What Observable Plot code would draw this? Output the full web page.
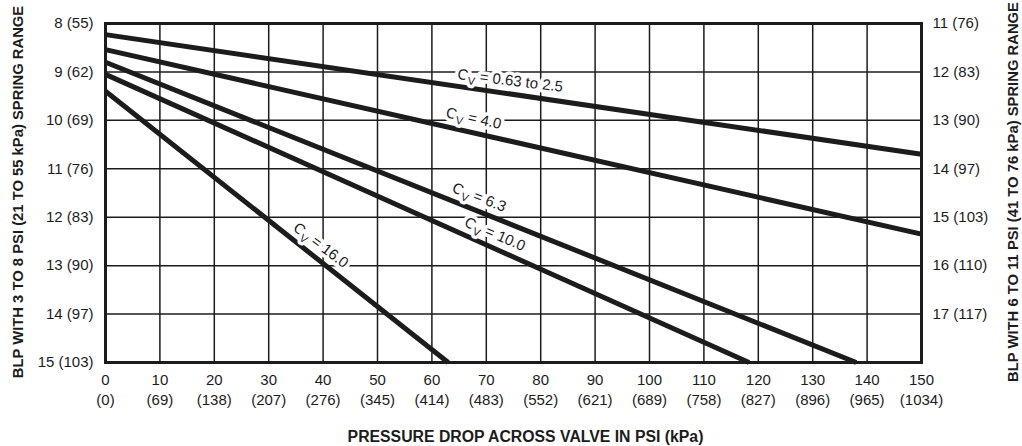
<!DOCTYPE html>
<html><head><meta charset="utf-8">
<script src="https://cdn.jsdelivr.net/npm/d3@7"></script>
<script src="https://cdn.jsdelivr.net/npm/@observablehq/plot@0.6"></script>
<style>body{margin:0;background:#fff}</style>
</head><body><div id="chart"></div>
<script>
// Tick values and labels
const xTicks = [0,10,20,30,40,50,60,70,80,90,100,110,120,130,140,150];
const xKpa   = [0,69,138,207,276,345,414,483,552,621,689,758,827,896,965,1034];
const leftTicks = [8,9,10,11,12,13,14,15];
const leftKpa   = [55,62,69,76,83,90,97,103];
const rightTicks = [11,12,13,14,15,16,17];
const rightKpa   = [76,83,90,97,103,110,117];
const rightOffset = 3; // right spring range = left + 3 psi

// Series: Cv curves (straight lines), start at 0 psi drop
const cvNames  = ["0.63 to 2.5","4.0","6.3","10.0","16.0"];
const startBLP = [8.23, 8.54, 8.80, 9.05, 9.40];
const endDrop  = [150, 150, 138, 118.3, 63];
const endBLP   = [10.70, 12.35, 15, 15, 15];

// Label positions
const labelX   = [74.4, 67.7, 68.7, 71.6, 39.6];
const labelY   = [9.18, 9.96, 11.59, 12.35, 12.58];
const labelRot = [7, 12, 21, 23, 37];

const leftTitle = "BLP WITH 3 TO 8 PSI (21 TO 55 kPa) SPRING RANGE";
const rightTitle = "BLP WITH 6 TO 11 PSI (41 TO 76 kPa) SPRING RANGE";
const xTitle = "PRESSURE DROP ACROSS VALVE IN PSI (kPa)";

const lineData = cvNames.flatMap((n,i)=>[
  {cv:n, x:0, y:startBLP[i]},
  {cv:n, x:endDrop[i], y:endBLP[i]}
]);
const labelData = cvNames.map((n,i)=>({text:"CV = "+n, x:labelX[i], y:labelY[i], r:labelRot[i]}));

const font = '"Liberation Sans", Arial, sans-serif';
const ink = "#1c1c1c";
const fs = 15;

const chart = Plot.plot({
  width:1022, height:446,
  marginLeft:105, marginRight:101, marginTop:23, marginBottom:84,
  style:{fontFamily:font, fontSize:fs+"px", color:ink, background:"#fff"},
  x:{domain:[0,150]},
  y:{domain:[8,15], reverse:true},
  marks:[
    Plot.ruleX(xTicks, {stroke:ink, strokeWidth:1.5}),
    Plot.ruleY(leftTicks, {stroke:ink, strokeWidth:1.5}),
    Plot.line(lineData, {x:"x", y:"y", z:"cv", stroke:ink, strokeWidth:5, strokeLinecap:"butt"}),
    Plot.text(labelData, {x:"x", y:"y", text:"text", rotate:"r", fill:ink, stroke:"white", strokeWidth:7, fontSize:fs}),
    Plot.frame({stroke:ink, strokeWidth:3}),
    Plot.axisX({ticks:xTicks, tickSize:0, tickPadding:12, tickFormat:d=>String(d), label:null, fontSize:fs}),
    Plot.axisX({ticks:xTicks, tickSize:0, tickPadding:32, tickFormat:d=>`(${xKpa[xTicks.indexOf(d)]})`, label:null, fontSize:fs}),
    Plot.axisY({ticks:leftTicks, anchor:"left", tickSize:0, tickPadding:12, tickFormat:d=>`${d} (${leftKpa[leftTicks.indexOf(d)]})`, label:null, fontSize:fs}),
    Plot.axisY({ticks:rightTicks.map(d=>d-rightOffset), anchor:"right", tickSize:0, tickPadding:11, tickFormat:d=>`${d+rightOffset} (${rightKpa[rightTicks.indexOf(d+rightOffset)]})`, label:null, fontSize:fs}),
    Plot.text([leftTitle], {frameAnchor:"left", rotate:-90, dx:-87, dy:-1, textAnchor:"middle", lineAnchor:"middle", fontWeight:"bold", fontSize:14.8, fill:ink}),
    Plot.text([rightTitle], {frameAnchor:"right", rotate:-90, dx:92, dy:-1, textAnchor:"middle", lineAnchor:"middle", fontWeight:"bold", fontSize:14.8, fill:ink}),
    Plot.text([xTitle], {frameAnchor:"bottom", dy:74, dx:12, textAnchor:"middle", lineAnchor:"middle", fontWeight:"bold", fontSize:15.8, fill:ink})
  ]
});
// subscript V in Cv labels
d3.select(chart).selectAll("text").each(function(){
  const t = this.textContent;
  if (/^CV = /.test(t) && this.children.length === 0) {
    const rest = t.slice(2);
    const sel = d3.select(this);
    sel.text("");
    sel.append("tspan").text("C");
    sel.append("tspan").attr("font-size","11").attr("dy","4").text("V");
    sel.append("tspan").attr("dy","-4").text(rest);
  }
});
document.getElementById("chart").appendChild(chart);
</script>
</body></html>
